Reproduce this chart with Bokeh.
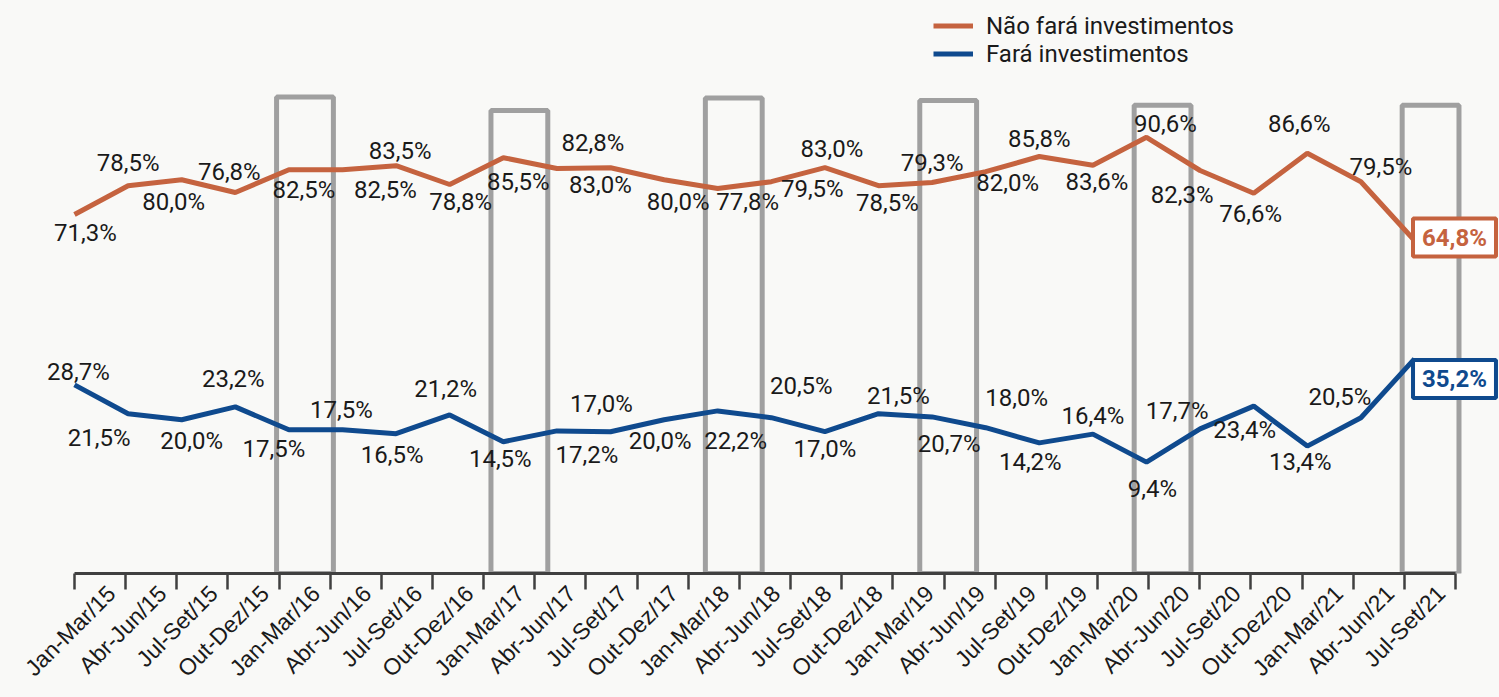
import math
from bokeh.plotting import figure
from bokeh.models import (Range1d, LinearAxis, FixedTicker, ColumnDataSource,
                          Legend, LegendItem, Label)
from bokeh.core.properties import value
from bokeh.embed import file_html
from bokeh.resources import INLINE

# ---------------- data ----------------
categories = [
    "Jan-Mar/15", "Abr-Jun/15", "Jul-Set/15", "Out-Dez/15",
    "Jan-Mar/16", "Abr-Jun/16", "Jul-Set/16", "Out-Dez/16",
    "Jan-Mar/17", "Abr-Jun/17", "Jul-Set/17", "Out-Dez/17",
    "Jan-Mar/18", "Abr-Jun/18", "Jul-Set/18", "Out-Dez/18",
    "Jan-Mar/19", "Abr-Jun/19", "Jul-Set/19", "Out-Dez/19",
    "Jan-Mar/20", "Abr-Jun/20", "Jul-Set/20", "Out-Dez/20",
    "Jan-Mar/21", "Abr-Jun/21", "Jul-Set/21",
]

nao_fara = [71.3, 78.5, 80.0, 76.8, 82.5, 82.5, 83.5, 78.8, 85.5, 82.8,
            83.0, 80.0, 77.8, 79.5, 83.0, 78.5, 79.3, 82.0, 85.8, 83.6,
            90.6, 82.3, 76.6, 86.6, 79.5, 64.8]
fara = [28.7, 21.5, 20.0, 23.2, 17.5, 17.5, 16.5, 21.2, 14.5, 17.2,
        17.0, 20.0, 22.2, 20.5, 17.0, 21.5, 20.7, 18.0, 14.2, 16.4,
        9.4, 17.7, 23.4, 13.4, 20.5, 35.2]

series_names = ["Não fará investimentos", "Fará investimentos"]

# highlighted points (grey frames) and their frame tops
highlight_idx = [4, 8, 12, 16, 20, 25]
highlight_top = [100.7, 97.3, 100.4, 99.8, 98.6, 98.6]

# ---------------- styling ----------------
ORANGE = "#C5633F"
BLUE = "#0F4A8E"
GREY = "#A0A0A0"
BG = "#F9F9F7"
TXT = "#1a1a1a"

# label offsets in pixels (dx right, dy down)
orange_off = [(11, 18), (0, -23), (-8, 22), (-6, -21), (15, 20), (43, 20), (4, -15),
              (11, 17), (15, 24), (36, -26), (-10, 17), (14, 22), (30, 13), (41, 7),
              (7, -19), (9, 17), (0, -20), (22, 11), (0, -18), (4, 17), (19, -13),
              (-18, 24), (-3, 21), (-8, -29), (20, -15)]
blue_off = [(4, -13), (-29, 24), (10, 21), (-2, -28), (-15, 19), (-1, -20), (-4, 21),
            (-4, -26), (-3, 17), (30, 24), (-9, -28), (-4, 21), (18, 30), (30, -32),
            (0, 17), (20, -18), (17, 27), (31, -30), (-9, 19), (0, -18), (6, 27),
            (-23, -18), (-9, 24), (-7, 16), (-21, -21)]


def fmt(v):
    return f"{v:.1f}".replace(".", ",") + "%"


n = len(nao_fara)
xs = list(range(n))

p = figure(width=1499, height=697,
           x_range=Range1d(-0.8209, 26.5858), y_range=Range1d(-18.45, 122.3),
           x_axis_location=None, y_axis_location=None,
           toolbar_location=None, output_backend="svg",
           min_border_left=30, min_border_right=0,
           min_border_top=10, min_border_bottom=124)
p.background_fill_color = BG
p.border_fill_color = BG
p.outline_line_color = None
p.xgrid.visible = False
p.ygrid.visible = False

# category axis
p.extra_x_ranges = {"cat": Range1d(-0.8603, 27.8603)}
ax = LinearAxis(x_range_name="cat", bounds=(0, len(categories)))
label_pos = [i + 0.72 for i in range(len(categories))]
ax.ticker = FixedTicker(ticks=label_pos, minor_ticks=list(range(len(categories) + 1)))
ax.major_label_overrides = {c: lab for c, lab in zip(label_pos, categories)}
ax.major_tick_line_color = None
ax.major_tick_out = 16
ax.major_tick_in = 0
ax.minor_tick_out = 16
ax.minor_tick_in = 0
ax.minor_tick_line_color = "#404040"
ax.minor_tick_line_width = 2.5
ax.axis_line_color = "#404040"
ax.axis_line_width = 3
ax.major_label_orientation = math.pi / 4
ax.major_label_text_font = "Liberation Sans"
ax.major_label_text_font_size = "23px"
ax.major_label_text_color = TXT
ax.major_label_standoff = 0
p.add_layout(ax, "below")

# grey highlight frames
p.quad(left=[i + 0.3 - 0.53 for i in highlight_idx],
       right=[i + 0.3 + 0.53 for i in highlight_idx],
       top=highlight_top, bottom=[-18.45] * len(highlight_idx),
       fill_color=None, line_color=GREY, line_width=5)

# lines
r_o = p.line(xs, nao_fara, line_color=ORANGE, line_width=5)
r_b = p.line(xs, fara, line_color=BLUE, line_width=5)

# data labels (all but last)
for vals, offs in ((nao_fara, orange_off), (fara, blue_off)):
    src = ColumnDataSource(dict(
        x=xs[:-1], y=vals[:-1], t=[fmt(v) for v in vals[:-1]],
        dx=[o[0] for o in offs], dy=[o[1] for o in offs]))
    p.text(x="x", y="y", text="t", x_offset="dx", y_offset="dy", source=src,
           text_font=value("Roboto"), text_font_size="24px", text_color=TXT,
           text_align="center", text_baseline="middle")

# boxed final values
for vals, col, dy in ((nao_fara, ORANGE, -3), (fara, BLUE, 20)):
    p.add_layout(Label(x=xs[-1], y=vals[-1], text=fmt(vals[-1]),
                       x_offset=40, y_offset=-dy,
                       text_font="Roboto", text_font_style="bold",
                       text_font_size="24px", text_color=col,
                       text_align="center", text_baseline="middle",
                       border_line_color=col, border_line_width=4,
                       background_fill_color="white", padding=(9, 5)))

legend = Legend(items=[LegendItem(label=series_names[0], renderers=[r_o]),
                       LegendItem(label=series_names[1], renderers=[r_b])],
                location=(903, 505.5))
legend.label_text_font = "Roboto"
legend.label_text_font_size = "24px"
legend.label_text_color = TXT
legend.glyph_width = 40
legend.glyph_height = 27
legend.label_height = 27
legend.label_standoff = 13
legend.spacing = 0
legend.padding = 0
legend.margin = 0
legend.background_fill_alpha = 0
legend.border_line_color = None
p.add_layout(legend)

html = file_html(p, INLINE)
html = html.replace("<head>", "<head><style>body{background:%s}</style>" % BG, 1)
open("out.html", "w").write(html)
